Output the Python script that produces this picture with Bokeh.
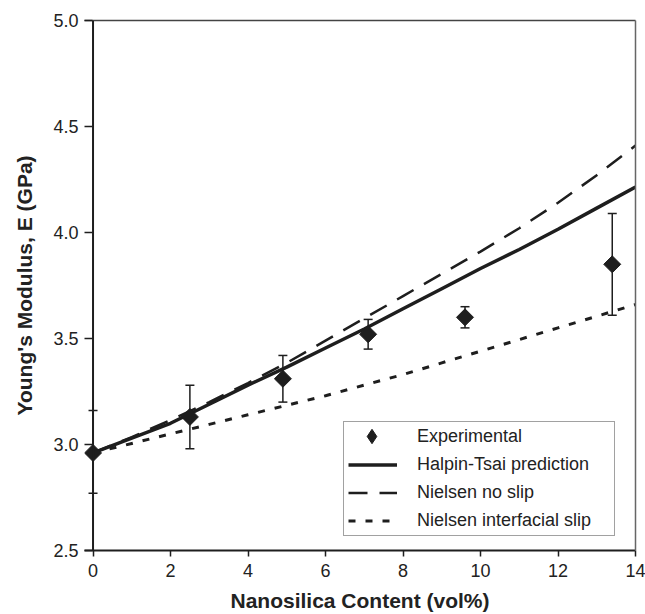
import numpy as np
from bokeh.plotting import figure
from bokeh.models import (Range1d, FixedTicker, PrintfTickFormatter, Whisker, TeeHead,
                          ColumnDataSource, Legend, LegendItem, Span, LinearAxis,
                          CDSView, IndexFilter)
from bokeh.embed import file_html
from bokeh.resources import INLINE

# ---- data ----
exp_x = [0.0, 2.5, 4.9, 7.1, 9.6, 13.4]
exp_y = [2.96, 3.13, 3.31, 3.52, 3.60, 3.85]
exp_lower = [2.77, 2.98, 3.20, 3.45, 3.55, 3.61]
exp_upper = [3.16, 3.28, 3.42, 3.59, 3.65, 4.09]

model_x = [0, 1, 2, 3, 4, 5, 6, 7, 8, 9, 10, 11, 12, 13, 14]
halpin_tsai = [2.96, 3.03, 3.10, 3.19, 3.28, 3.365, 3.455, 3.545, 3.64, 3.735,
               3.83, 3.92, 4.015, 4.115, 4.215]
nielsen_no_slip = [2.96, 3.035, 3.115, 3.20, 3.29, 3.385, 3.49, 3.595, 3.70, 3.805,
                   3.91, 4.02, 4.14, 4.27, 4.41]
nielsen_slip = [2.96, 3.005, 3.05, 3.095, 3.14, 3.185, 3.23, 3.28, 3.33, 3.385,
                3.44, 3.495, 3.55, 3.605, 3.66]

x_ticks = [0, 2, 4, 6, 8, 10, 12, 14]
y_ticks = [2.5, 3.0, 3.5, 4.0, 4.5, 5.0]
x_min, x_max = 0, 14
y_min, y_max = 2.5, 5.0

legend_labels = ["Experimental", "Halpin-Tsai prediction", "Nielsen no slip",
                 "Nielsen interfacial slip"]

INK = "#1e1e1e"
FONT = "Liberation Sans"

# a small pad left of x=0 keeps the marker at x=0 unclipped; the visible
# y axis line is drawn at x=0 and the ticks point inward across the pad.
p = figure(width=645, height=614, output_backend="svg", toolbar_location=None,
           x_range=Range1d(x_min - 0.22, x_max), y_range=Range1d(y_min, y_max),
           min_border_left=84, min_border_right=10, min_border_top=20,
           min_border_bottom=61)
p.xgrid.visible = False
p.ygrid.visible = False
p.outline_line_color = None
p.background_fill_color = "white"
p.border_fill_color = "white"

for ax in (p.xaxis[0], p.yaxis[0]):
    ax.axis_line_width = 2
    ax.axis_line_color = INK
    ax.major_tick_line_color = INK
    ax.major_tick_line_width = 1.5
    ax.minor_tick_in = 0
    ax.minor_tick_out = 0
    ax.major_label_text_font = FONT
    ax.major_label_text_font_size = "18px"
    ax.major_label_text_color = "#222222"

p.xaxis.ticker = FixedTicker(ticks=x_ticks)
p.yaxis.ticker = FixedTicker(ticks=y_ticks)
p.yaxis.formatter = PrintfTickFormatter(format="%.1f")
p.xaxis.major_tick_in = 0
p.xaxis.major_tick_out = 6
p.yaxis.major_tick_in = 8
p.yaxis.major_tick_out = 0
p.yaxis.axis_line_color = None
p.xaxis.major_label_standoff = 7
p.yaxis.major_label_standoff = 6

p.xaxis.axis_label = "Nanosilica Content (vol%)"
p.yaxis.axis_label = "Young's Modulus, E (GPa)"
for ax in (p.xaxis[0], p.yaxis[0]):
    ax.axis_label_text_font = FONT
    ax.axis_label_text_font_size = "21px"
    ax.axis_label_text_font_style = "bold"
    ax.axis_label_text_color = "#222222"
p.xaxis.axis_label_standoff = 9
p.yaxis.axis_label_standoff = 14

# y axis line at x = 0
p.add_layout(Span(location=x_min, dimension="height", line_color=INK, line_width=2))

# top and right frame borders (bare axes)
top_ax = LinearAxis(ticker=FixedTicker(ticks=[]), axis_line_color="#444444",
                    axis_line_width=1.5, major_tick_line_color=None,
                    minor_tick_line_color=None)
right_ax = LinearAxis(ticker=FixedTicker(ticks=[]), axis_line_color="#666666",
                      axis_line_width=1.5, major_tick_line_color=None,
                      minor_tick_line_color=None)
p.add_layout(top_ax, "above")
p.add_layout(right_ax, "right")

# ---- models ----
r_ht = p.line(model_x, halpin_tsai, line_color=INK, line_width=3.5)
r_ns = p.line(model_x, nielsen_no_slip, line_color=INK, line_width=2.5, line_dash="19 12")
r_sl = p.line(model_x, nielsen_slip, line_color=INK, line_width=3, line_dash="7 10")

# ---- experimental ----
src = ColumnDataSource(dict(x=exp_x, y=exp_y, lower=exp_lower, upper=exp_upper))
wh = Whisker(base="x", lower="lower", upper="upper", source=src, line_color=INK,
             line_width=1.5,
             upper_head=TeeHead(size=9, line_color=INK, line_width=1.5),
             lower_head=TeeHead(size=9, line_color=INK, line_width=1.5))
p.add_layout(wh)

# legend key shape: a diamond drawn under the first experimental point
# (fully hidden by it) so that the legend can render a diamond key
key_diamond = p.scatter("x", "y", source=src, view=CDSView(filter=IndexFilter([0])),
                        marker="diamond", size=9, fill_color=INK, line_color=INK)

r_exp = p.scatter("x", "y", source=src, marker="square", angle=np.pi / 4, size=12,
                  fill_color=INK, line_color=INK)

key_blank = p.line([], [], line_alpha=0)

legend = Legend(items=[LegendItem(label=legend_labels[0], renderers=[key_blank]),
                       LegendItem(label=legend_labels[1], renderers=[r_ht]),
                       LegendItem(label=legend_labels[2], renderers=[r_ns]),
                       LegendItem(label=legend_labels[3], renderers=[r_sl])],
                location=(259, 14), border_line_color="#444444", border_line_width=1.5,
                padding=4, spacing=7, glyph_width=49, glyph_height=17, label_height=17,
                label_standoff=20, label_width=193, margin=0,
                label_text_font=FONT, label_text_font_size="18px",
                label_text_color="#222222", background_fill_alpha=1.0)
p.add_layout(legend)

legend_key = Legend(items=[LegendItem(label=" ", renderers=[key_diamond])],
                    location=(263, 96), border_line_alpha=0, background_fill_alpha=0,
                    padding=0, spacing=0, glyph_width=49, glyph_height=36,
                    label_standoff=0, label_width=0, margin=0,
                    label_text_font=FONT, label_text_font_size="18px")
p.add_layout(legend_key)

open("out.html", "w").write(file_html(p, INLINE))
